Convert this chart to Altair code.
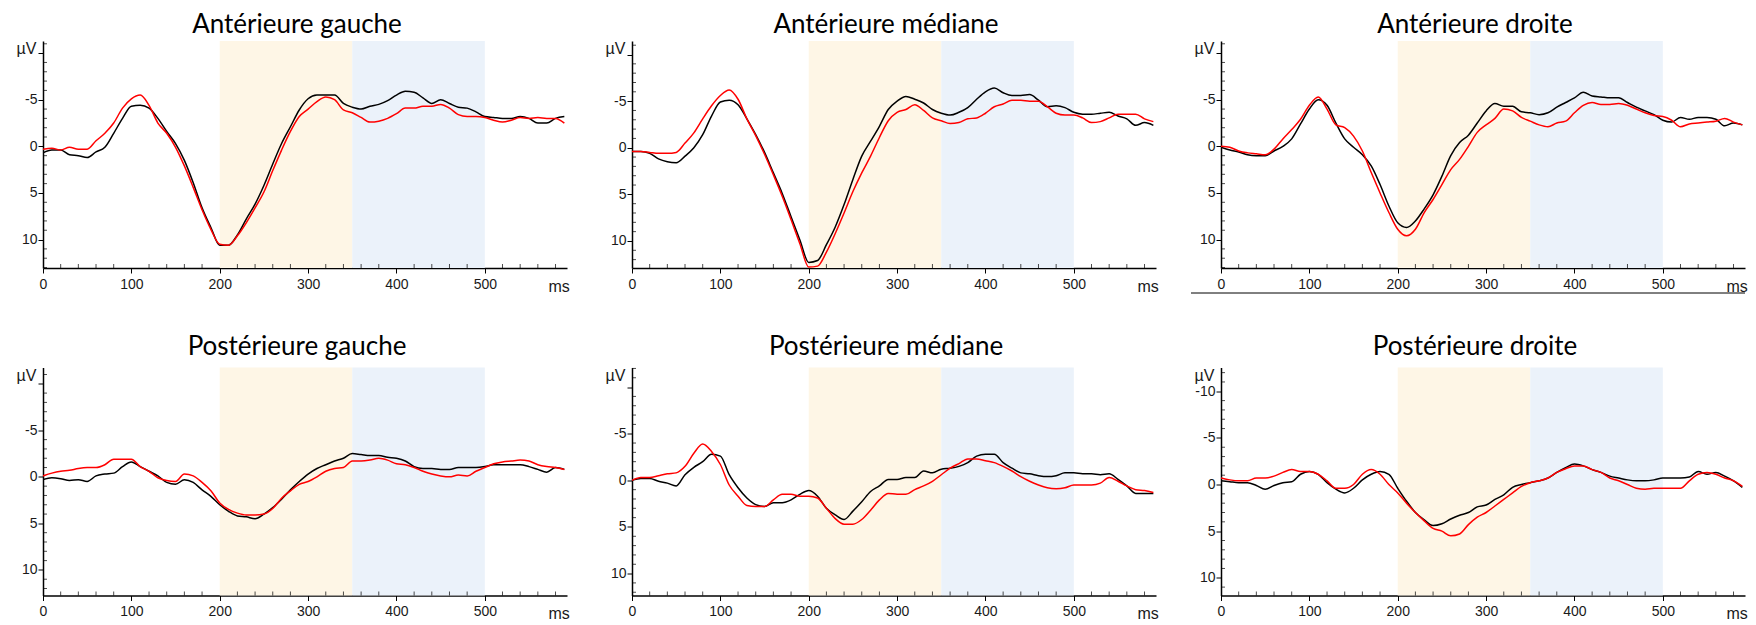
import altair as alt
import pandas as pd

# ---------------- data ----------------
time_ms = list(range(0, 600, 10))  # 0 .. 590 ms

titles = [
    "Antérieure gauche", "Antérieure médiane", "Antérieure droite",
    "Postérieure gauche", "Postérieure médiane", "Postérieure droite",
]

black_ag = [0.7, 0.4, 0.4, 0.9, 1.0, 1.2, 0.6, 0.1, -1.4, -3.0,
            -4.3, -4.4, -4.1, -3.0, -1.6, -0.3, 1.5, 3.9, 6.6, 8.7,
            10.6, 10.6, 9.5, 7.8, 6.2, 4.2, 1.9, -0.3, -2.1, -3.9,
            -5.1, -5.5, -5.5, -5.5, -4.6, -4.2, -4.0, -4.3, -4.5, -4.9,
            -5.5, -5.9, -5.8, -5.2, -4.6, -5.0, -4.6, -4.2, -4.1, -3.7,
            -3.2, -3.1, -3.0, -3.0, -3.2, -3.0, -2.5, -2.5, -3.0, -3.2]
red_ag = [0.3, 0.2, 0.4, 0.1, 0.3, 0.3, -0.6, -1.4, -2.5, -4.1,
          -5.1, -5.5, -4.4, -2.5, -1.4, 0.1, 2.1, 4.4, 6.8, 8.9,
          10.5, 10.6, 9.6, 8.2, 6.6, 4.9, 2.6, 0.4, -1.6, -3.2,
          -4.0, -4.8, -5.3, -5.0, -3.9, -3.6, -3.1, -2.6, -2.7, -3.0,
          -3.5, -4.1, -4.1, -4.3, -4.3, -4.5, -4.1, -3.4, -3.2, -3.2,
          -3.1, -2.8, -2.6, -2.8, -3.1, -3.0, -3.1, -3.0, -3.0, -2.5]

black_am = [0.4, 0.4, 0.6, 1.2, 1.5, 1.6, 0.9, 0.0, -1.4, -3.4,
            -4.9, -5.1, -4.6, -3.1, -1.4, 0.5, 2.7, 4.9, 7.4, 9.9,
            12.3, 12.1, 10.4, 8.5, 6.1, 3.4, 0.9, -0.7, -2.3, -4.1,
            -5.0, -5.5, -5.2, -4.8, -4.1, -3.7, -3.5, -3.8, -4.3, -5.2,
            -6.0, -6.4, -5.9, -5.6, -5.6, -5.7, -5.1, -4.4, -4.5, -4.3,
            -3.8, -3.6, -3.6, -3.7, -3.8, -3.4, -3.1, -2.4, -2.7, -2.4]
red_am = [0.4, 0.4, 0.5, 0.6, 0.6, 0.5, -0.5, -1.6, -3.1, -4.5,
          -5.6, -6.2, -5.2, -3.1, -1.3, 0.7, 2.9, 5.2, 7.7, 10.3,
          12.8, 12.7, 11.2, 9.2, 7.0, 4.7, 2.7, 0.9, -1.1, -2.9,
          -3.8, -4.1, -4.6, -4.0, -3.2, -2.9, -2.6, -2.7, -3.1, -3.2,
          -3.7, -4.4, -4.7, -5.1, -5.1, -5.0, -5.0, -4.4, -3.7, -3.5,
          -3.5, -3.2, -2.7, -2.8, -3.2, -3.6, -3.6, -3.6, -3.1, -2.8]

black_ad = [0.1, 0.4, 0.6, 0.9, 1.0, 1.0, 0.5, 0.0, -0.8, -2.4,
            -4.0, -5.0, -4.4, -2.5, -0.8, 0.1, 0.9, 2.1, 4.1, 6.4,
            8.2, 8.7, 8.0, 6.7, 5.2, 3.2, 1.0, -0.4, -1.2, -2.5,
            -3.8, -4.6, -4.3, -4.3, -3.7, -3.6, -3.4, -3.6, -4.2, -4.7,
            -5.2, -5.8, -5.4, -5.3, -5.2, -5.2, -4.7, -4.2, -3.8, -3.4,
            -2.8, -2.6, -3.1, -2.9, -3.1, -3.1, -2.9, -2.2, -2.5, -2.3]
red_ad = [0.0, 0.1, 0.5, 0.7, 0.8, 0.9, 0.3, -0.8, -1.8, -2.9,
          -4.4, -5.3, -4.0, -2.3, -2.0, -1.1, 0.5, 2.8, 5.0, 7.1,
          8.9, 9.6, 8.9, 7.1, 5.7, 4.1, 2.5, 1.4, 0.0, -1.5,
          -2.3, -3.0, -4.0, -3.8, -3.1, -2.7, -2.3, -2.1, -2.5, -2.7,
          -3.6, -4.4, -4.7, -4.5, -4.5, -4.6, -4.4, -4.0, -3.6, -3.3,
          -3.2, -2.8, -2.1, -2.4, -2.5, -2.6, -2.7, -3.0, -2.6, -2.3]

black_pg = [0.3, 0.1, 0.2, 0.4, 0.3, 0.5, -0.1, -0.3, -0.4, -1.1,
            -1.6, -1.1, -0.6, -0.1, 0.6, 0.8, 0.3, 0.6, 1.4, 2.1,
            3.0, 3.7, 4.2, 4.3, 4.5, 4.0, 3.3, 2.4, 1.4, 0.5,
            -0.3, -0.9, -1.3, -1.7, -2.0, -2.5, -2.4, -2.3, -2.3, -2.1,
            -2.0, -1.7, -1.1, -0.9, -0.9, -0.8, -0.8, -1.0, -1.0, -1.0,
            -1.1, -1.3, -1.3, -1.3, -1.3, -1.1, -0.8, -0.5, -1.0, -0.8]
red_pg = [-0.1, -0.4, -0.6, -0.7, -0.9, -1.0, -1.0, -1.3, -1.9, -1.9,
          -1.9, -1.1, -0.6, 0.1, 0.4, 0.5, -0.3, -0.1, 0.6, 1.5,
          2.8, 3.5, 3.9, 4.1, 4.1, 4.0, 3.4, 2.3, 1.5, 0.8,
          0.5, 0.0, -0.6, -0.9, -1.0, -1.7, -1.7, -1.8, -2.0, -1.8,
          -1.4, -1.3, -1.0, -0.6, -0.3, -0.1, 0.0, -0.2, -0.1, -0.6,
          -1.0, -1.4, -1.6, -1.7, -1.8, -1.7, -1.3, -1.1, -1.0, -0.8]

black_pm = [0.0, -0.2, -0.2, 0.1, 0.3, 0.6, -0.6, -1.4, -2.0, -2.8,
            -2.6, -0.6, 0.8, 1.9, 2.6, 2.8, 2.4, 2.4, 2.1, 1.5,
            1.1, 1.7, 3.0, 3.7, 4.2, 3.3, 2.3, 1.2, 0.6, -0.1,
            -0.1, -0.3, -0.3, -1.0, -0.8, -1.2, -1.3, -1.5, -1.9, -2.6,
            -2.8, -2.8, -1.9, -1.3, -0.8, -0.7, -0.5, -0.4, -0.5, -0.8,
            -0.8, -0.7, -0.7, -0.6, -0.7, -0.1, 0.6, 1.4, 1.4, 1.4]
red_pm = [0.0, -0.3, -0.3, -0.5, -0.7, -0.8, -1.5, -2.9, -3.9, -3.1,
          -1.7, 0.5, 1.7, 2.7, 2.8, 2.8, 2.1, 1.5, 1.5, 1.7,
          1.7, 1.9, 3.0, 4.1, 4.7, 4.7, 4.2, 3.2, 2.1, 1.4,
          1.5, 1.5, 1.0, 0.6, 0.1, -0.6, -1.3, -1.8, -2.3, -2.3,
          -2.1, -1.9, -1.5, -1.0, -0.4, 0.1, 0.5, 0.8, 0.9, 0.8,
          0.5, 0.5, 0.5, 0.3, -0.3, 0.1, 0.6, 1.0, 1.1, 1.3]

black_pd = [-0.4, -0.3, -0.2, -0.2, 0.1, 0.5, 0.1, -0.2, -0.3, -1.1,
            -1.4, -1.1, -0.2, 0.5, 0.9, 0.4, -0.5, -1.1, -1.4, -1.1,
            0.4, 1.8, 3.0, 3.8, 4.4, 4.2, 3.7, 3.3, 3.0, 2.4,
            2.2, 1.6, 1.1, 0.3, 0.0, -0.2, -0.4, -0.7, -1.3, -1.8,
            -2.2, -2.0, -1.6, -1.3, -0.9, -0.7, -0.5, -0.4, -0.4, -0.5,
            -0.7, -0.7, -0.7, -0.8, -1.4, -1.1, -1.3, -0.9, -0.4, 0.3]
red_pd = [-0.7, -0.5, -0.4, -0.4, -0.7, -0.7, -0.9, -1.3, -1.6, -1.4,
          -1.4, -1.1, -0.4, 0.4, 0.4, 0.0, -1.1, -1.6, -1.1, 0.0,
          0.9, 2.0, 3.0, 3.9, 4.7, 5.0, 5.5, 5.3, 4.3, 3.5,
          3.0, 2.3, 1.6, 0.9, 0.2, -0.2, -0.4, -0.7, -1.3, -1.7,
          -2.0, -2.0, -1.6, -1.3, -0.7, -0.4, 0.0, 0.4, 0.5, 0.4,
          0.4, 0.4, 0.4, -0.4, -1.1, -1.3, -1.1, -0.7, -0.4, 0.2]

black_series = [black_ag, black_am, black_ad, black_pg, black_pm, black_pd]
red_series = [red_ag, red_am, red_ad, red_pg, red_pm, red_pd]

# y-axis ranges (µV, negative up) per panel
y_domains = [(-11.3, 13.05), (-11.45, 12.9), (-11.3, 13.05),
             (-11.75, 12.75), (-12.1, 12.35), (-12.55, 11.9)]
x_domain = (0, 593)

# shaded analysis windows
win_start = [200, 350]
win_end = [350, 500]
win_color = ["#FEF6E6", "#EBF2FA"]

# tick positions
x_major = [0, 100, 200, 300, 400, 500]
x_minor = [t for t in range(20, 600, 20) if t % 100 != 0]
y_major = [-10, -5, 0, 5, 10]
y_minor = [v for v in range(-12, 14) if v % 5 != 0]

# ---------------- layout ----------------
W = 524
ROW_H = [227, 228]
TITLE_OFFSET = [-18, -14]
LABEL_FONT = "Liberation Sans"
TITLE_FONT = "Lato"


def panel(i):
    row = i // 3
    h = ROW_H[row]
    lo, hi = y_domains[i]
    xs = alt.Scale(domain=list(x_domain), nice=False, zero=False)
    ys = alt.Scale(domain=[lo, hi], reverse=True, nice=False, zero=False)

    label_expr = ("toString(datum.value)" if i == 5
                  else "datum.value == -10 ? '' : toString(datum.value)")

    x_axis = alt.Axis(
        values=x_major, format="d", grid=False, labelFlush=False,
        labelOverlap=False,
        tickSize=5, tickWidth=1, tickColor="black",
        domainColor="black", domainWidth=1.5,
        labelFont=LABEL_FONT, labelFontSize=14, labelColor="#1a1a1a",
        labelPadding=4,
        title="ms", titleX=W - 19, titleY=23, titleAlign="left",
        titleBaseline="alphabetic", titleFont=LABEL_FONT, titleFontSize=16,
        titleFontWeight="normal", titleColor="#1a1a1a",
    )
    y_axis = alt.Axis(
        values=y_major, labelExpr=label_expr, grid=False,
        labelFlush=False, labelOverlap=False,
        tickSize=5, tickWidth=1, tickColor="black",
        domainColor="black", domainWidth=1.5,
        labelFont=LABEL_FONT, labelFontSize=14, labelColor="#1a1a1a",
        labelPadding=1,
        title="µV", titleAngle=0, titleAlign="right",
        titleBaseline="alphabetic", titleX=-7, titleY=12.5,
        titleFont=LABEL_FONT, titleFontSize=16, titleFontWeight="normal",
        titleColor="#1a1a1a",
    )

    df_b = pd.DataFrame({"t": time_ms, "v": black_series[i]})
    df_r = pd.DataFrame({"t": time_ms, "v": red_series[i]})

    # every layer gets the same axis definition so they merge cleanly
    shade = alt.Chart(pd.DataFrame({"t": win_start, "t2": win_end,
                                    "c": win_color})).mark_rect().encode(
        x=alt.X("t:Q", scale=xs, axis=x_axis),
        x2="t2:Q",
        color=alt.Color("c:N", scale=None),
    )

    ym = [v for v in y_minor if lo <= v <= hi]
    minor_x = alt.Chart(pd.DataFrame({"t": x_minor})).mark_tick(
        orient="vertical", size=4, thickness=1, color="black").encode(
        x=alt.X("t:Q", scale=xs, axis=x_axis),
        y=alt.value(h - 2),
    )
    minor_y = alt.Chart(pd.DataFrame({"v": ym})).mark_tick(
        orient="horizontal", size=4, thickness=1, color="black").encode(
        y=alt.Y("v:Q", scale=ys, axis=y_axis),
        x=alt.value(2),
    )

    line_b = alt.Chart(df_b).mark_line(
        color="#000000", strokeWidth=1.5, clip=True, interpolate="monotone"
    ).encode(
        x=alt.X("t:Q", scale=xs, axis=x_axis),
        y=alt.Y("v:Q", scale=ys, axis=y_axis),
    )
    line_r = alt.Chart(df_r).mark_line(
        color="#ff0000", strokeWidth=1.5, clip=True, interpolate="monotone"
    ).encode(
        x=alt.X("t:Q", scale=xs, axis=x_axis),
        y=alt.Y("v:Q", scale=ys, axis=y_axis),
    )

    layers = [shade, minor_x, minor_y, line_b, line_r]
    if i == 2:
        underline = alt.Chart(pd.DataFrame({"k": [0]})).mark_rule(
            color="black", strokeWidth=1).encode(
            x=alt.value(-30), x2=alt.value(W), y=alt.value(h + 25))
        layers.append(underline)

    return alt.layer(*layers).properties(
        width=W, height=h,
        title=alt.TitleParams(
            titles[i], font=TITLE_FONT, fontSize=26, fontWeight="normal",
            color="black", anchor="middle", baseline="alphabetic",
            offset=TITLE_OFFSET[row], dx=-8),
    )


chart = alt.concat(*[panel(i) for i in range(6)], columns=3,
                   spacing=alt.RowColnumber(row=99.5, column=65),
                   bounds="flush").properties(
    background="white",
    padding={"left": 16, "top": 11, "right": 2, "bottom": 2},
).configure_view(stroke=None)

chart.save("out.html", embed_options={"renderer": "svg", "actions": False})
